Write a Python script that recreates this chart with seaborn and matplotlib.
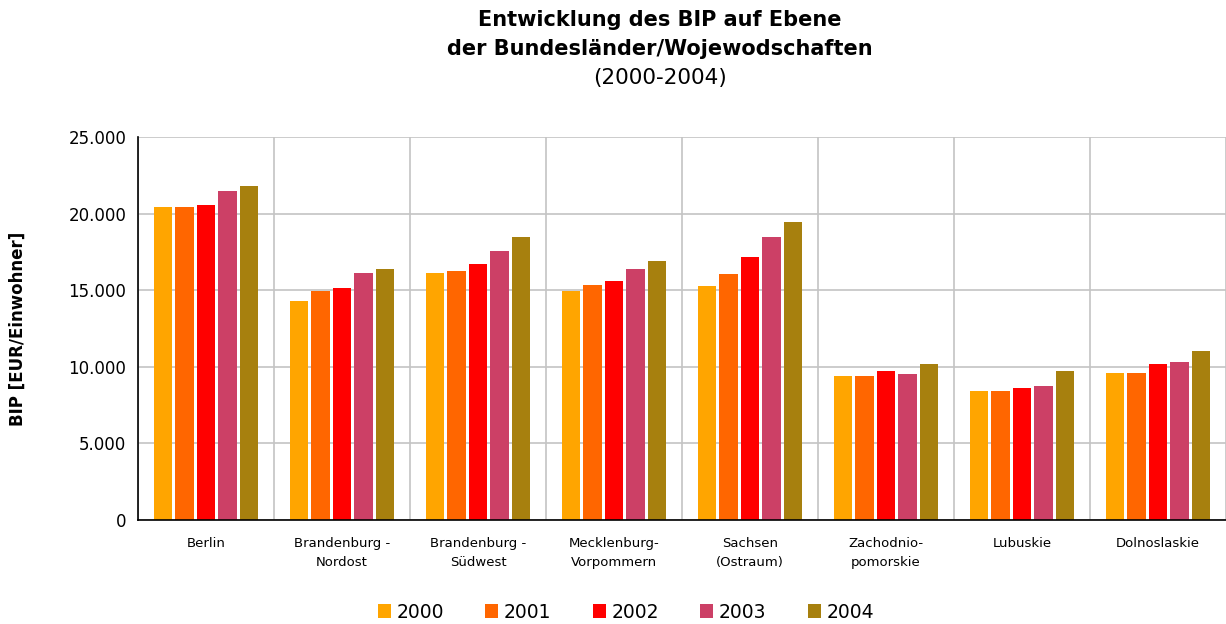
import numpy as np
import pandas as pd
import matplotlib
matplotlib.use("Agg")
import matplotlib.pyplot as plt
import seaborn as sns
from matplotlib.ticker import FuncFormatter, MultipleLocator

# Données (EUR par habitant)
regions = ["Berlin", "Brandenburg -\nNordost", "Brandenburg -\nSüdwest",
           "Mecklenburg-\nVorpommern", "Sachsen\n(Ostraum)", "Zachodnio-\npomorskie",
           "Lubuskie", "Dolnoslaskie"]
years = ["2000", "2001", "2002", "2003", "2004"]
bip_2000 = [20430, 14300, 16120, 14950, 15270, 9400, 8420, 9600]
bip_2001 = [20430, 14950, 16250, 15340, 16060, 9400, 8420, 9600]
bip_2002 = [20560, 15140, 16710, 15600, 17170, 9730, 8620, 10180]
bip_2003 = [21470, 16120, 17560, 16380, 18470, 9530, 8750, 10310]
bip_2004 = [21800, 16380, 18470, 16910, 19450, 10180, 9730, 11030]
colors = ["#FFA500", "#FF6600", "#FF0000", "#CC4066", "#A7800E"]

series = [bip_2000, bip_2001, bip_2002, bip_2003, bip_2004]
df = pd.DataFrame({
    "region": regions * len(years),
    "year": [y for y in years for _ in regions],
    "bip": [v for s in series for v in s],
})

sns.set_style("white")
plt.rcParams["font.family"] = ["DejaVu Sans"]
plt.rcParams["text.color"] = "black"
plt.rcParams["axes.labelcolor"] = "black"
plt.rcParams["xtick.color"] = "black"
plt.rcParams["ytick.color"] = "black"

fig = plt.figure(figsize=(12.26, 6.24), dpi=100)
ax = fig.add_axes([138 / 1226, 1 - 520 / 624, 1088 / 1226, 383 / 624])

sns.barplot(data=df, x="region", y="bip", hue="year", palette=colors,
            width=0.79, gap=0.13, saturation=1, linewidth=0, ax=ax, legend=True)

ax.set_ylim(0, 25000)
ax.set_xlim(-0.5, len(regions) - 0.5)
ax.yaxis.set_major_locator(MultipleLocator(5000))
ax.yaxis.set_major_formatter(FuncFormatter(lambda v, p: f"{int(v):,}".replace(",", ".")))
ax.xaxis.set_minor_locator(MultipleLocator(1, offset=0.5))
ax.set_axisbelow(True)
ax.grid(axis="y", which="major", color="#C4C4C4", linewidth=1.2)
ax.grid(axis="x", which="minor", color="#C4C4C4", linewidth=1.2)
ax.tick_params(axis="x", which="major", length=0, pad=12, labelsize=9.5, labelcolor="black")
ax.tick_params(axis="x", which="minor", length=5, width=1, color="black", direction="out")
ax.tick_params(axis="y", length=5, width=1, color="black", direction="out", labelsize=12,
               labelcolor="black")
for lbl in ax.get_xticklabels():
    lbl.set_linespacing(1.6)

for side in ["top", "right"]:
    ax.spines[side].set_visible(False)
ax.spines["left"].set_color("black")
ax.spines["bottom"].set_color("black")
ax.spines["left"].set_linewidth(1.2)
ax.spines["bottom"].set_linewidth(1.2)

ax.set_xlabel("")
ax.set_ylabel("BIP [EUR/Einwohner]", fontsize=12, fontweight="bold", labelpad=30, color="black")

title_x = 660 / 1226
fig.text(title_x, 1 - 20 / 624, "Entwicklung des BIP auf Ebene", ha="center", va="center",
         fontsize=15, fontweight="bold", color="black")
fig.text(title_x, 1 - 49 / 624, "der Bundesländer/Wojewodschaften", ha="center", va="center",
         fontsize=15, fontweight="bold", color="black")
fig.text(title_x, 1 - 78 / 624, "(2000-2004)", ha="center", va="center", fontsize=15.5,
         color="black")

handles, labels = ax.get_legend_handles_labels()
ax.legend_.remove()
fig.legend(handles, labels, loc="center", bbox_to_anchor=(626 / 1226, 1 - 612 / 624), ncol=5,
           frameon=False, fontsize=13.5, handlelength=0.7, handleheight=0.7,
           handletextpad=0.3, columnspacing=2.2)

fig.savefig("out.png", dpi=100)
